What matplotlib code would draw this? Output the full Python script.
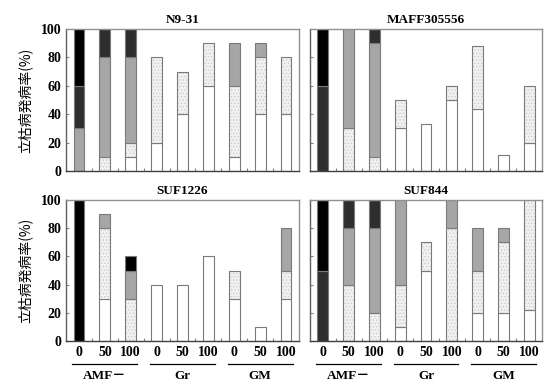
import numpy as np
import matplotlib.pyplot as plt
from matplotlib.transforms import blended_transform_factory

# bar positions: AMF-, Gr, GM x 0/50/100
doses = ["0", "50", "100"] * 3
groups = ["AMF\uff0d", "Gr", "GM"]
titles = ["N9-31", "MAFF305556", "SUF1226", "SUF844"]

# stacked components (incidence %) : white, dotted, gray, dark, black
n931_white = [0, 0, 10, 20, 40, 60, 10, 40, 40]
n931_dot = [0, 10, 10, 60, 30, 30, 50, 40, 40]
n931_gray = [30, 70, 60, 0, 0, 0, 30, 10, 0]
n931_dark = [30, 20, 20, 0, 0, 0, 0, 0, 0]
n931_black = [40, 0, 0, 0, 0, 0, 0, 0, 0]

maff_white = [0, 0, 0, 30, 33, 50, 44, 11, 20]
maff_dot = [0, 30, 10, 20, 0, 10, 44, 0, 40]
maff_gray = [0, 70, 80, 0, 0, 0, 0, 0, 0]
maff_dark = [60, 0, 10, 0, 0, 0, 0, 0, 0]
maff_black = [40, 0, 0, 0, 0, 0, 0, 0, 0]

suf1226_white = [0, 30, 0, 40, 40, 60, 30, 10, 30]
suf1226_dot = [0, 50, 30, 0, 0, 0, 20, 0, 20]
suf1226_gray = [0, 10, 20, 0, 0, 0, 0, 0, 30]
suf1226_dark = [0, 0, 0, 0, 0, 0, 0, 0, 0]
suf1226_black = [100, 0, 10, 0, 0, 0, 0, 0, 0]

suf844_white = [0, 0, 0, 10, 50, 0, 20, 20, 22]
suf844_dot = [0, 40, 20, 30, 20, 80, 30, 50, 78]
suf844_gray = [0, 40, 60, 60, 0, 20, 30, 10, 0]
suf844_dark = [50, 20, 20, 0, 0, 0, 0, 0, 0]
suf844_black = [50, 0, 0, 0, 0, 0, 0, 0, 0]

panels = [
    [n931_white, n931_dot, n931_gray, n931_dark, n931_black],
    [maff_white, maff_dot, maff_gray, maff_dark, maff_black],
    [suf1226_white, suf1226_dot, suf1226_gray, suf1226_dark, suf1226_black],
    [suf844_white, suf844_dot, suf844_gray, suf844_dark, suf844_black],
]

seg_colors = ["white", "#f0f0f0", "#a6a6a6", "#2e2e2e", "black"]
seg_hatch = [None, ".....", None, None, None]

serif = "Liberation Serif"
plt.rcParams["hatch.linewidth"] = 0.4

fig = plt.figure(figsize=(5.44, 3.82), dpi=100)
boxes = [
    [66 / 544, 1 - 171 / 382, 233 / 544, 142 / 382],
    [310 / 544, 1 - 171 / 382, 232 / 544, 142 / 382],
    [66 / 544, 1 - 341 / 382, 233 / 544, 141 / 382],
    [310 / 544, 1 - 341 / 382, 232 / 544, 141 / 382],
]

x = np.arange(9)
for i, (box, segs) in enumerate(zip(boxes, panels)):
    ax = fig.add_axes(box)
    bottom = np.zeros(9)
    for vals, c, h in zip(segs, seg_colors, seg_hatch):
        vals = np.array(vals, dtype=float)
        mask = vals > 0
        if h:
            # light dotted fill, then the outline on top
            ax.bar(x[mask], vals[mask], bottom=bottom[mask], width=0.42,
                   color=c, edgecolor="#c4c4c4", linewidth=0, hatch=h)
            ax.bar(x[mask], vals[mask], bottom=bottom[mask], width=0.42,
                   fill=False, edgecolor="#7a7a7a", linewidth=0.8)
        else:
            ax.bar(x[mask], vals[mask], bottom=bottom[mask], width=0.42,
                   color=c, edgecolor="#7a7a7a", linewidth=0.8)
        bottom += vals
    ax.set_xlim(-0.5, 8.5)
    ax.set_ylim(0, 100)
    for s in ax.spines.values():
        s.set_color("#909090")
        s.set_linewidth(1.0)
    ax.spines["left"].set_color("#606060")
    ax.spines["bottom"].set_color("#404040")
    ax.set_yticks([0, 20, 40, 60, 80, 100])
    ax.tick_params(axis="y", direction="in", length=2, color="#808080")
    ax.set_xticks(np.arange(0.5, 8, 1.0))
    ax.tick_params(axis="x", direction="in", length=2, color="#808080",
                   labelbottom=False)
    ax.set_title(titles[i], fontsize=9.5, fontweight="bold", family=serif, pad=4)
    if i % 2 == 0:
        ax.set_yticklabels([str(v) for v in [0, 20, 40, 60, 80, 100]],
                           fontsize=10, fontweight="bold", family=serif)
        ax.set_ylabel("立枯病発病率(%)", fontsize=10,
                      family=["Noto Sans CJK JP", "DejaVu Sans"], labelpad=6)
    else:
        ax.set_yticklabels([])
    if i >= 2:
        tr = blended_transform_factory(ax.transData, ax.transAxes)
        for j, d in enumerate(doses):
            ax.text(j, -0.08, d, transform=tr, ha="center", va="center",
                    fontsize=10, fontweight="bold", family=serif)
        for g, name in enumerate(groups):
            ax.plot([g * 3 - 0.25, g * 3 + 2.25], [-0.16, -0.16], transform=tr,
                    color="black", lw=0.9, clip_on=False)
            ax.text(g * 3 + 1, -0.245, name, transform=tr, ha="center",
                    va="center", fontsize=9.5, fontweight="bold",
                    family=[serif, "Noto Sans CJK JP"])

fig.savefig("out.png", dpi=100)
